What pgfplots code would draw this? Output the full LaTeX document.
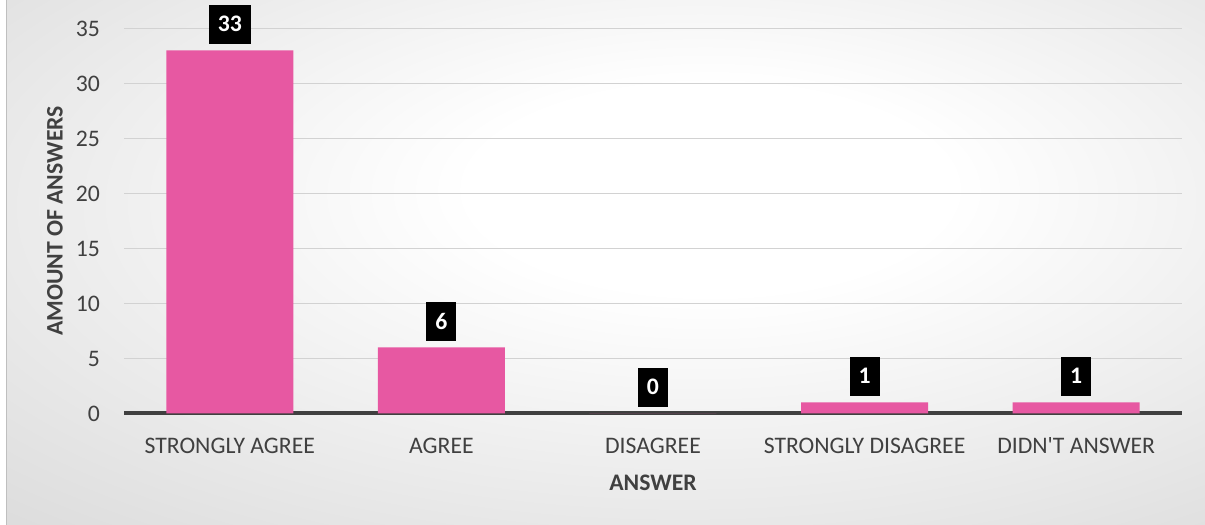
\documentclass[border=0pt]{standalone}
\usepackage{pgfplots}
\pgfplotsset{compat=1.18}
\usepackage{fontspec}
\setmainfont{Carlito}
\definecolor{barpink}{RGB}{231,88,162}
\definecolor{baredge}{RGB}{242,165,205}
\definecolor{axisgray}{RGB}{64,64,64}
\definecolor{gridgray}{RGB}{210,210,210}
\definecolor{textgray}{RGB}{64,64,64}
\pgfdeclareradialshading{bgshade}{\pgfpoint{5bp}{8bp}}{color(0bp)=(white); color(10bp)=(white); color(50bp)=(black!18); color(82bp)=(black!30)}
\pgfplotsset{layers/mylayers/.define layer set={axis background,axis grid,axis ticks,axis tick labels,pre main,main,axis lines,axis descriptions,axis foreground}{}}
\begin{document}
\begin{tikzpicture}
\fill[white] (0,0) rectangle (1205bp,524bp);
\shade[shading=bgshade] (6bp,0) rectangle (1205bp,524bp);
\draw[black!25, line width=1bp] (6bp,0) -- (6bp,524bp);
\begin{axis}[
  set layers=mylayers,
  clip=false,
  at={(124bp,111bp)}, anchor=south west,
  scale only axis, width=1058bp, height=385bp,
  xmin=-0.5, xmax=4.5, ymin=0, ymax=35,
  xtick={0,...,4},
  xticklabels={STRONGLY AGREE,AGREE,DISAGREE,STRONGLY DISAGREE,DIDN\textquotesingle T ANSWER},
  ytick={0,5,...,35},
  major tick length=0pt,
  axis x line*=bottom,
  axis y line*=left,
  y axis line style={draw=none},
  x axis line style={draw=axisgray, line width=4bp, -},
  ymajorgrids, grid style={gridgray, line width=1.2bp},
  tick label style={font=\fontsize{23.7bp}{28bp}\selectfont, text=textgray, inner sep=0pt},
  yticklabel style={xshift=-24bp},
  xticklabel style={yshift=-24bp},
  /pgf/number format/assume math mode=true,
  xlabel={ANSWER}, ylabel={AMOUNT OF ANSWERS},
  label style={font=\fontsize{23.7bp}{28bp}\selectfont\bfseries, text=textgray, inner sep=0pt},
  xlabel style={at={(axis description cs:0.5,0)}, anchor=north, yshift=-61bp},
  ylabel style={at={([xshift=-69bp]axis description cs:0,0.5)}, anchor=center},
]
\addplot[ybar, bar width=127bp, fill=barpink, draw=none,
  nodes near coords,
  every node near coord/.append style={font=\fontsize{23.7bp}{28bp}\selectfont\bfseries,
    text=white, fill=black, inner xsep=9bp, inner ysep=0pt, minimum height=39bp,
    anchor=south, yshift=6.5bp}]
  coordinates {(0,33) (1,6) (2,0) (3,1) (4,1)};
\end{axis}
\end{tikzpicture}
\end{document}
